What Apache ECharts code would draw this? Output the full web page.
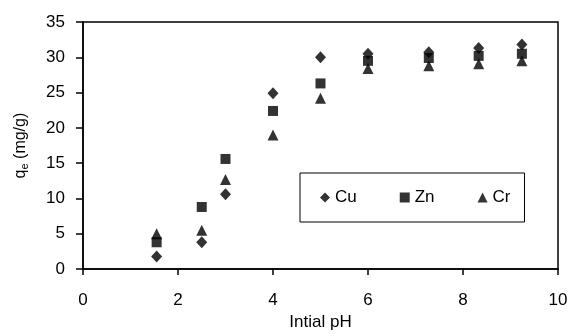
<!DOCTYPE html>
<html><head><meta charset="utf-8">
<script src="https://cdn.jsdelivr.net/npm/echarts@6/dist/echarts.min.js"></script>
<style>html,body{margin:0;padding:0;background:#fff}#c{width:573px;height:336px}</style>
</head><body><div id="c"></div>
<script>
var pH = [1.55, 2.5, 3.0, 4.0, 5.0, 6.0, 7.28, 8.33, 9.24];
var cu = [1.8, 3.8, 10.6, 24.9, 30.0, 30.5, 30.7, 31.3, 31.8];
var zn = [3.8, 8.8, 15.6, 22.4, 26.3, 29.5, 29.9, 30.2, 30.5];
var cr = [5.0, 5.5, 12.7, 19.0, 24.2, 28.4, 28.8, 29.1, 29.5];
var xTicks = [0, 2, 4, 6, 8, 10];
var yTicks = [0, 5, 10, 15, 20, 25, 30, 35];
var names = ['Cu', 'Zn', 'Cr'];

function pts(ys){ return pH.map(function(x,i){ return [x, ys[i]]; }); }
var font = 'Liberation Sans, Arial, sans-serif';
var axisLine = {show:true, lineStyle:{color:'#000', width:1.5}};
var chart = echarts.init(document.getElementById('c'));
chart.setOption({
  animation:false,
  grid:{left:83, right:15, top:22, bottom:66, show:true, borderColor:'#000', borderWidth:1.5},
  legend:{
    left:300, top:173, padding:[16,14,16,20], itemGap:43,
    itemWidth:10, itemHeight:10,
    borderColor:'#000', borderWidth:1, backgroundColor:'#fff',
    textStyle:{fontFamily:font, fontSize:17, color:'#000'},
    data:[{name:names[0], icon:'diamond'},{name:names[1], icon:'rect'},{name:names[2], icon:'triangle'}]
  },
  xAxis:{type:'value', min:xTicks[0], max:xTicks[xTicks.length-1], interval:2,
    name:'Intial pH', nameLocation:'middle', nameGap:41,
    nameTextStyle:{fontFamily:font, fontSize:17, color:'#000'},
    axisLine:axisLine, axisTick:{show:true, inside:false, length:6, lineStyle:{color:'#000', width:1.5}},
    axisLabel:{fontFamily:font, fontSize:17, color:'#000', margin:23},
    splitLine:{show:false}},
  yAxis:{type:'value', min:yTicks[0], max:yTicks[yTicks.length-1], interval:5,
    name:'{a|q}{b|e}{a| (mg/g)}', nameLocation:'middle', nameGap:53, nameRotate:90,
    nameTextStyle:{rich:{a:{fontFamily:font, fontSize:16, color:'#000'}, b:{fontFamily:font, fontSize:11, color:'#000', verticalAlign:'bottom', padding:[7,0,0,0]}}},
    axisLine:axisLine, axisTick:{show:true, inside:false, length:7, lineStyle:{color:'#000', width:1.5}},
    axisLabel:{fontFamily:font, fontSize:17, color:'#000', margin:18},
    splitLine:{show:false}},
  series:[
    {name:names[0], type:'scatter', symbol:'diamond', symbolSize:[11,12], itemStyle:{color:'#000'}, data:pts(cu), z:3},
    {name:names[1], type:'scatter', symbol:'rect', symbolSize:10, itemStyle:{color:'#000'}, data:pts(zn), z:2},
    {name:names[2], type:'scatter', symbol:'triangle', symbolSize:[11,11], itemStyle:{color:'#000'}, data:pts(cr), z:1}
  ]
});
</script></body></html>
